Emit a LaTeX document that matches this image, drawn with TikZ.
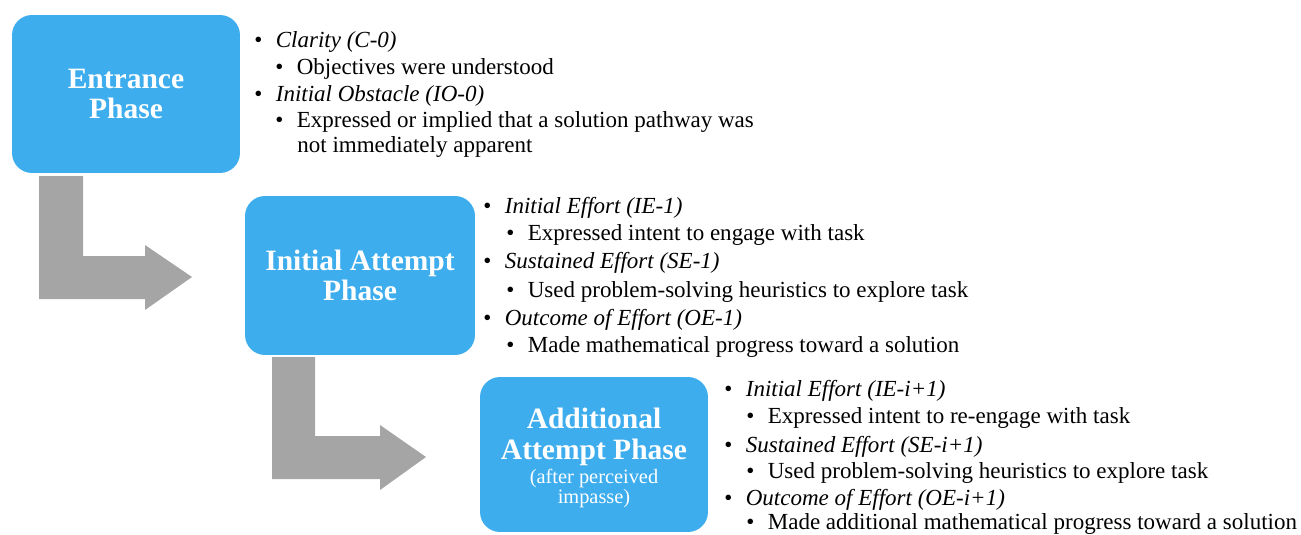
\documentclass[tikz,border=0pt]{standalone}
\usepackage{fontspec}
\setmainfont{Liberation Serif}
\usetikzlibrary{positioning}
\definecolor{phaseblue}{RGB}{61,173,238}
\definecolor{arrowgray}{RGB}{165,165,165}
\newcommand{\bul}{\makebox[0.43cm][l]{\upshape\textbullet}}
\newcommand{\notefont}{\fontsize{11.6}{12}\selectfont\mdseries}

\begin{document}
\begin{tikzpicture}[x=0.02cm,y=-0.02cm,
  phase/.style={fill=phaseblue,rounded corners=0.4cm,text=white,align=center,inner sep=0pt,
    font=\fontsize{16.8}{17.5}\selectfont\bfseries},
  head/.style={anchor=base west,inner sep=0pt,font=\fontsize{13.1}{15}\selectfont\itshape},
  sub/.style={anchor=base west,inner sep=0pt,font=\fontsize{13.1}{15}\selectfont},
  bentarrow/.style={fill=arrowgray}]
  \useasboundingbox (0,0) rectangle (1301,534);

  % phases
  \node[phase,minimum width=4.56cm,minimum height=3.16cm] (entrance) at (126,94) {Entrance\\Phase};
  \node[phase,minimum width=4.6cm,minimum height=3.18cm] (initial) at (360,275.5) {Initial Attempt\\Phase};
  \node[phase,minimum width=4.56cm,minimum height=3.1cm] (additional) at (594,454.5)
    {\rule{0pt}{16pt}Additional\\Attempt Phase\\[-3.8pt]\notefont (after perceived\\[-6.1pt]\notefont impasse)};

  % bent arrows
  \fill[bentarrow] (39,176)--(83,176)--(83,256)--(145,256)--(145,245)--(192,277)--(145,310)--(145,299)--(39,299)--cycle;
  \fill[bentarrow] (272,357)--(315,357)--(315,436)--(380,436)--(380,425)--(426,457)--(380,490)--(380,479)--(272,479)--cycle;

  % entrance codes
  \node[head] (c0) at (254,47) {\bul Clarity (C-0)};
  \node[sub] (c0a) at (275,74) {\bul Objectives were understood};
  \node[head] (io0) at (254,101) {\bul Initial Obstacle (IO-0)};
  \node[sub] (io0a) at (275,127) {\bul Expressed or implied that a solution pathway was};
  \node[sub] (io0b) at (297,152) {not immediately apparent};

  % initial attempt codes
  \node[head] (ie1) at (483,213) {\bul Initial Effort (IE-1)};
  \node[sub] (ie1a) at (506,240) {\bul Expressed intent to engage with task};
  \node[head] (se1) at (483,268) {\bul Sustained Effort (SE-1)};
  \node[sub] (se1a) at (506,297) {\bul Used problem-solving heuristics to explore task};
  \node[head] (oe1) at (483,325) {\bul Outcome of Effort (OE-1)};
  \node[sub] (oe1a) at (506,352) {\bul Made mathematical progress toward a solution};

  % additional attempt codes
  \node[head] (iei) at (724,396) {\bul Initial Effort (IE-i+1)};
  \node[sub] (iei-a) at (746,423) {\bul Expressed intent to re-engage with task};
  \node[head] (sei) at (724,452) {\bul Sustained Effort (SE-i+1)};
  \node[sub] (sei-a) at (746,478) {\bul Used problem-solving heuristics to explore task};
  \node[head] (oei) at (724,505) {\bul Outcome of Effort (OE-i+1)};
  \node[sub] (oei-a) at (746,529) {\bul Made additional mathematical progress toward a solution};
\end{tikzpicture}
\end{document}
